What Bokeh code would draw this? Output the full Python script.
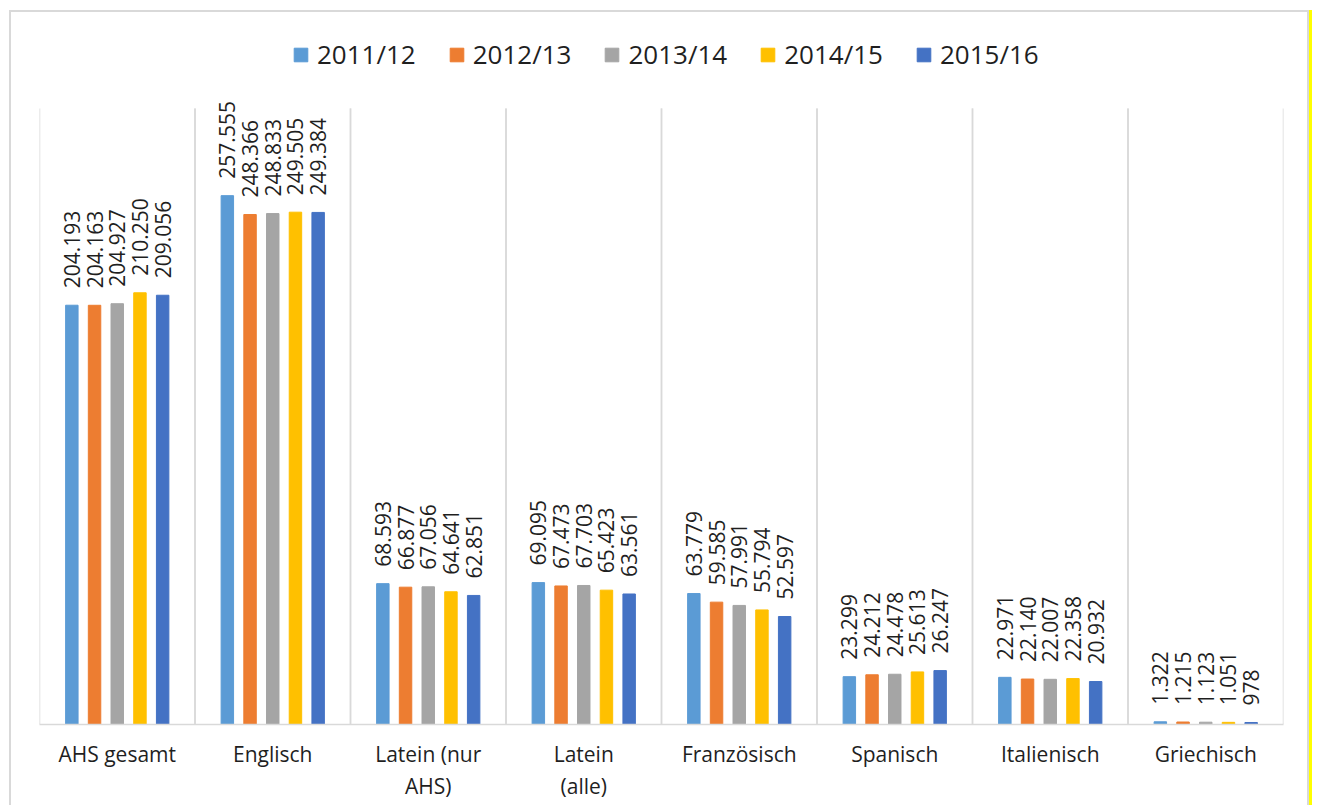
import math
from bokeh.plotting import figure
from bokeh.models import FactorRange, Range1d, ColumnDataSource, Legend, LegendItem
from bokeh.transform import dodge
from bokeh.core.properties import value
from bokeh.embed import file_html
from bokeh.resources import INLINE

categories = ["AHS gesamt", "Englisch", "Latein (nur\nAHS)", "Latein\n(alle)",
              "Französisch", "Spanisch", "Italienisch", "Griechisch"]
years = ["2011/12", "2012/13", "2013/14", "2014/15", "2015/16"]

v_2011_12 = [204193, 257555, 68593, 69095, 63779, 23299, 22971, 1322]
v_2012_13 = [204163, 248366, 66877, 67473, 59585, 24212, 22140, 1215]
v_2013_14 = [204927, 248833, 67056, 67703, 57991, 24478, 22007, 1123]
v_2014_15 = [210250, 249505, 64641, 65423, 55794, 25613, 22358, 1051]
v_2015_16 = [209056, 249384, 62851, 63561, 52597, 26247, 20932, 978]

series = [v_2011_12, v_2012_13, v_2013_14, v_2014_15, v_2015_16]
colors = ["#5B9BD5", "#ED7D31", "#A5A5A5", "#FFC000", "#4472C4"]
offsets = [-0.292, -0.146, 0.0, 0.146, 0.292]

FONT = "Open Sans"
AXIS_MAX = 300000          # top of the value axis (gridline extent)
FRAME_H, AXIS_H = 712, 616  # frame height vs. height of the 0..AXIS_MAX band

p = figure(x_range=FactorRange(*categories),
           y_range=Range1d(0, AXIS_MAX * FRAME_H / AXIS_H),
           width=1300, height=795, output_backend="svg", toolbar_location=None,
           min_border_left=28, min_border_right=28, min_border_top=0,
           min_border_bottom=83)

p.styles = {"margin-left": "9px", "margin-top": "10px",
            "border-left": "2px solid #d9d9d9", "border-top": "2px solid #d9d9d9",
            "border-right": "2px solid #d9d9d9", "box-shadow": "3px 0 0 0 #ffff00"}

# vertical separators between categories
grid = ColumnDataSource(dict(cat=categories))
seg_kw = dict(y0=0, y1=AXIS_MAX, line_color="#d9d9d9", line_width=1.5, source=grid)
p.segment(x0=dodge("cat", -0.5, range=p.x_range), x1=dodge("cat", -0.5, range=p.x_range), **seg_kw)
p.segment(x0=dodge("cat", 0.5, range=p.x_range), x1=dodge("cat", 0.5, range=p.x_range), **seg_kw)

items = []
for yr, vals, col, off in zip(years, series, colors, offsets):
    labels = [f"{v:,}".replace(",", ".") for v in vals]
    src = ColumnDataSource(dict(cat=categories, val=vals, lab=labels))
    r = p.vbar(x=dodge("cat", off, range=p.x_range), top="val", width=0.08,
               source=src, fill_color=col, line_color=col)
    p.text(x=dodge("cat", off, range=p.x_range), y="val", text="lab", source=src,
           angle=math.pi / 2, text_align="left", text_baseline="middle",
           y_offset=-17, text_font=value(FONT), text_font_size="21px",
           text_color="#1f1f1f")
    items.append(LegendItem(label=yr, renderers=[r]))

legend = Legend(items=items, orientation="horizontal", location=(253, 652),
                glyph_width=17, glyph_height=17, label_standoff=8, spacing=32,
                padding=0, margin=0, border_line_color=None, background_fill_alpha=0,
                label_text_font=FONT, label_text_font_size="26px",
                label_text_color="#1f1f1f")
p.add_layout(legend)

p.xaxis.axis_line_color = "#d9d9d9"
p.xaxis.axis_line_width = 1.5
p.xaxis.major_tick_line_color = None
p.xaxis.minor_tick_line_color = None
p.xaxis.major_label_text_font = FONT
p.xaxis.major_label_text_font_size = "21px"
p.xaxis.major_label_text_color = "#1f1f1f"
p.xaxis.major_label_standoff = 9
p.xaxis.major_label_text_line_height = 1.15
p.yaxis.visible = False
p.xgrid.visible = False
p.ygrid.visible = False
p.outline_line_color = None

open("out.html", "w").write(file_html(p, INLINE))
